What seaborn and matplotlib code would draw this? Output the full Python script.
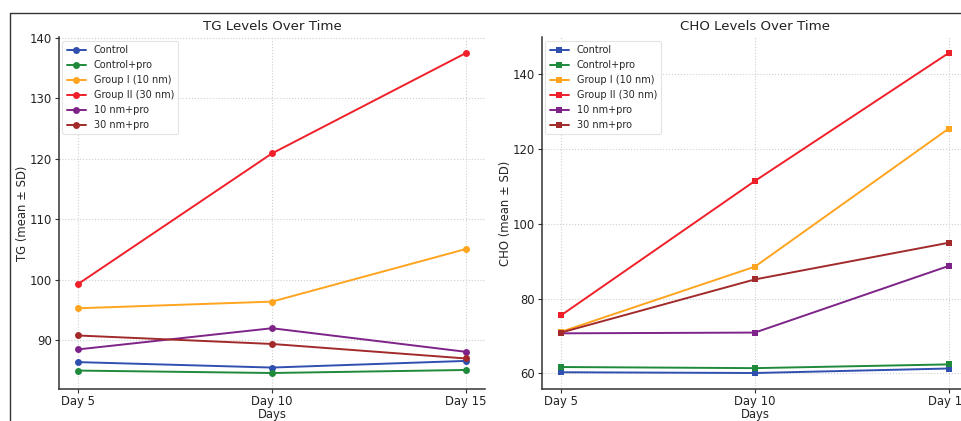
import matplotlib
matplotlib.use("Agg")
import matplotlib.pyplot as plt
import seaborn as sns
from matplotlib.lines import Line2D

# values
days = [5, 10, 15]
day_labels = ["Day 5", "Day 10", "Day 15"]
groups = ["Control", "Control+pro", "Group I (10 nm)", "Group II (30 nm)", "10 nm+pro", "30 nm+pro"]
colors = ["#3050b0", "#1f8a3c", "#ffa41f", "#f0202a", "#7e2388", "#a22a2a"]

tg_control = [86.4, 85.5, 86.6]
tg_control_pro = [85.0, 84.6, 85.1]
tg_group1 = [95.3, 96.4, 105.1]
tg_group2 = [99.3, 120.9, 137.5]
tg_10nm_pro = [88.5, 92.0, 88.1]
tg_30nm_pro = [90.8, 89.4, 87.0]

cho_control = [60.3, 60.1, 61.3]
cho_control_pro = [61.7, 61.4, 62.4]
cho_group1 = [71.1, 88.5, 125.4]
cho_group2 = [75.5, 111.4, 145.6]
cho_10nm_pro = [70.7, 70.9, 88.7]
cho_30nm_pro = [70.9, 85.1, 94.9]

tg = [tg_control, tg_control_pro, tg_group1, tg_group2, tg_10nm_pro, tg_30nm_pro]
cho = [cho_control, cho_control_pro, cho_group1, cho_group2, cho_10nm_pro, cho_30nm_pro]

sns.set_style("whitegrid", {
    "grid.linestyle": ":",
    "grid.color": "#cfcfcf",
    "axes.edgecolor": "#333333",
    "xtick.bottom": True,
    "ytick.left": True,
    "axes.spines.top": False,
    "axes.spines.right": False,
})
plt.rcParams["font.family"] = ["DejaVu Sans"]

fig = plt.figure(figsize=(9.61, 4.21), dpi=100)
W, H = 961, 421
ax1 = fig.add_axes([58.6 / W, (H - 389) / H, 426.8 / W, 352 / H])
ax2 = fig.add_axes([541.6 / W, (H - 389) / H, 426.5 / W, 352 / H])


def draw(ax, series, marker, title, ylabel):
    for name, col, vals in zip(groups, colors, series):
        sns.lineplot(x=days, y=vals, ax=ax, color=col, marker=marker, label=name,
                     linewidth=1.4, markersize=5.0 if marker == "o" else 4.6,
                     markeredgewidth=0)
    ax.set_xticks(days)
    ax.set_xticklabels(day_labels)
    ax.set_title(title, fontsize=9.6, color="#222222", pad=5)
    ax.set_xlabel("Days", fontsize=8.4, labelpad=0)
    ax.set_ylabel(ylabel, fontsize=8.4, labelpad=1)
    ax.tick_params(axis="both", labelsize=8.4, length=3, width=0.8,
                   colors="#333333", labelcolor="#222222", pad=1.5)
    for s in ["left", "bottom"]:
        ax.spines[s].set_linewidth(1.1)
    ax.grid(True, linestyle=":", linewidth=0.8, color="#cfcfcf")
    leg = ax.legend(loc="upper left", fontsize=7.0, frameon=True,
                    borderaxespad=0.4, labelspacing=0.52, handletextpad=0.8,
                    borderpad=0.42)
    leg.get_frame().set_edgecolor("#dddddd")
    leg.get_frame().set_linewidth(0.8)


draw(ax1, tg, "o", "TG Levels Over Time", "TG (mean ± SD)")
draw(ax2, cho, "s", "CHO Levels Over Time", "CHO (mean ± SD)")
ax1.set_yticks([90, 100, 110, 120, 130, 140])
ax2.set_yticks([60, 80, 100, 120, 140])

# border lines of the original image
fig.add_artist(Line2D([10 / W, 1], [(H - 13) / H, (H - 13) / H], color="#333333", linewidth=1.0))
fig.add_artist(Line2D([10 / W, 10 / W], [0, (H - 13) / H], color="#333333", linewidth=1.0))

fig.savefig("out.png", dpi=100)
